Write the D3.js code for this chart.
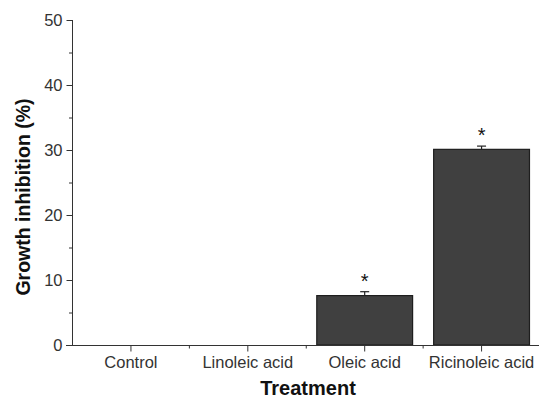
<!DOCTYPE html>
<html><head><meta charset="utf-8">
<script src="https://cdn.jsdelivr.net/npm/d3@7"></script>
<style>body{margin:0;background:#fff}svg{display:block}</style>
</head><body>
<svg id="c" width="539" height="400"></svg>
<script>
const categories = ["Control", "Linoleic acid", "Oleic acid", "Ricinoleic acid"];
const values = [0, 0, 7.6, 30.1];
const errors = [0, 0, 0.6, 0.5];
const significant = [false, false, true, true];
const yTicks = [0, 10, 20, 30, 40, 50];
const yMinorTicks = [5, 15, 25, 35, 45];

const svg = d3.select("#c");
const font = "'Liberation Sans', Arial, sans-serif";
const x = d3.scaleBand().domain(categories).range([72.5, 540]).paddingInner(0.18).paddingOuter(0.09);
const y = d3.scaleLinear().domain([0, 50]).range([345, 20]);
const axisColor = "#333";

// bars
svg.selectAll("rect.bar").data(categories).enter().append("rect")
  .attr("x", d => x(d)).attr("width", x.bandwidth())
  .attr("y", (d, i) => y(values[i])).attr("height", (d, i) => y(0) - y(values[i]))
  .attr("fill", "#404040").attr("stroke", "#1e1e1e").attr("stroke-width", 1.2)
  .attr("display", (d, i) => values[i] > 0 ? null : "none");

// error bars (upper only)
categories.forEach((c, i) => {
  if (values[i] <= 0) return;
  const cx = x(c) + x.bandwidth() / 2;
  svg.append("line").attr("x1", cx).attr("x2", cx).attr("y1", y(values[i])).attr("y2", y(values[i] + errors[i]))
    .attr("stroke", "#222").attr("stroke-width", 1.2);
  svg.append("line").attr("x1", cx - 4.5).attr("x2", cx + 4.5).attr("y1", y(values[i] + errors[i])).attr("y2", y(values[i] + errors[i]))
    .attr("stroke", "#222").attr("stroke-width", 1.2);
  if (significant[i]) {
    svg.append("text").attr("x", cx).attr("y", y(values[i] + errors[i]) - 4)
      .attr("text-anchor", "middle").attr("font-family", font).attr("font-size", 20).attr("fill", "#111").text("*");
  }
});

// y axis
const yAxis = d3.axisLeft(y).tickValues(yTicks).tickSize(6).tickPadding(4);
const gy = svg.append("g").attr("transform", "translate(72.5,0)").call(yAxis);
gy.select(".domain").attr("stroke", axisColor).attr("d", `M0,${y(50)}V${y(0)}`);
gy.selectAll(".tick line").attr("stroke", axisColor);
gy.selectAll(".tick text").attr("font-family", font).attr("font-size", 16.5).attr("fill", "#333");
svg.append("g").selectAll("line").data(yMinorTicks).enter().append("line")
  .attr("x1", 72.5).attr("x2", 69).attr("y1", d => y(d) + 0.5).attr("y2", d => y(d) + 0.5).attr("stroke", axisColor);

// x axis
const xAxis = d3.axisBottom(x).tickSize(6).tickPadding(5).tickSizeOuter(0);
const gx = svg.append("g").attr("transform", `translate(0,${y(0) + 0.5})`).call(xAxis);
gx.select(".domain").attr("stroke", axisColor).attr("d", "M66,0H540");
gx.selectAll(".tick line").attr("stroke", axisColor);
gx.selectAll(".tick text").attr("font-family", font).attr("font-size", 16.5).attr("fill", "#333");
const bounds = categories.slice(1).map(c => x(c) - x.step() * x.paddingInner() / 2);
svg.append("g").selectAll("line").data(bounds).enter().append("line")
  .attr("x1", d => d).attr("x2", d => d).attr("y1", y(0)).attr("y2", y(0) + 3.5).attr("stroke", axisColor);

// labels
svg.append("text").attr("x", 308).attr("y", 395).attr("text-anchor", "middle")
  .attr("font-family", font).attr("font-weight", "bold").attr("font-size", 20).attr("fill", "#111").text("Treatment");
svg.append("text").attr("transform", "translate(30,197) rotate(-90)").attr("text-anchor", "middle")
  .attr("font-family", font).attr("font-weight", "bold").attr("font-size", 19.5).attr("fill", "#111").text("Growth inhibition (%)");
</script>
</body></html>
